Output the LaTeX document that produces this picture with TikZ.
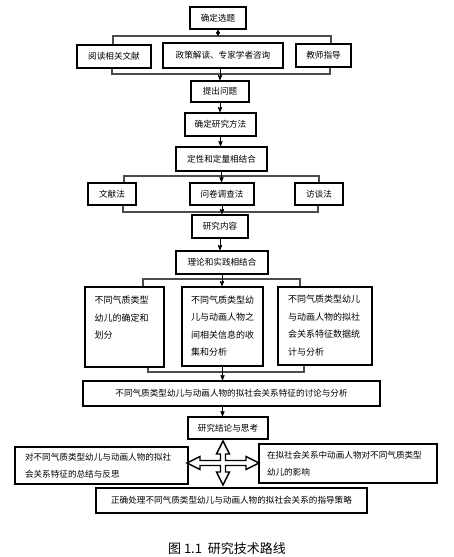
\documentclass[tikz,border=0pt]{standalone}
\usepackage{fontspec}
\setmainfont{Noto Sans CJK SC}
\usetikzlibrary{arrows, calc, positioning}

\tikzset{
  box/.style={draw, line width=1.1pt, inner sep=0pt, align=center,
    font=\fontsize{8.6}{17}\selectfont},
  tallbox/.style={box, font=\fontsize{9}{17.5}\selectfont},
  bar/.style={-, draw=black!70, line width=1.8pt},
}

\begin{document}
\begin{tikzpicture}[x=1pt, y=-1pt, ->, >=stealth', shorten >=0.5pt, line width=0.8pt]
  \useasboundingbox (0,0) rectangle (453,557);

  % topic and its sources
  \node[box, minimum width=56, minimum height=22]  (select)   at (218,18)    {确定选题};
  \node[box, minimum width=74, minimum height=23]  (read)     at (114,56.5)  {阅读相关文献};
  \node[box, minimum width=120, minimum height=25] (policy)   at (223,55.5)  {政策解读、专家学者咨询};
  \node[box, minimum width=55, minimum height=23]  (teach)    at (323.5,55.5) {教师指导};
  \node[box, minimum width=58, minimum height=21]  (question) at (220,91.5)  {提出问题};
  \node[box, minimum width=71, minimum height=23]  (method)   at (220.5,124.5) {确定研究方法};
  \node[box, minimum width=91, minimum height=24]  (mix)      at (221.5,159) {定性和定量相结合};

  % methods
  \node[box, minimum width=48, minimum height=22]  (lit)       at (112,194) {文献法};
  \node[box, minimum width=64, minimum height=22]  (survey)    at (222,194) {问卷调查法};
  \node[box, minimum width=48, minimum height=22]  (interview) at (319,194) {访谈法};
  \node[box, minimum width=56, minimum height=23]  (content)   at (220,226.5) {研究内容};
  \node[box, minimum width=92, minimum height=23]  (theory)    at (222,262.5) {理论和实践相结合};

  % contents
  \node[tallbox, minimum width=79, minimum height=80] (typeA) at (124.5,327)
    {\parbox[c][62pt][t]{60pt}{不同气质类型\\幼儿的确定和\\划分}};
  \node[tallbox, minimum width=81, minimum height=79] (typeB) at (222.5,326.5)
    {\parbox[c][62pt][t]{63pt}{不同气质类型幼\\儿与动画人物之\\间相关信息的收\\集和分析}};
  \node[tallbox, minimum width=94, minimum height=78] (typeC) at (325,326)
    {\parbox[c][62pt][t]{74pt}{不同气质类型幼儿\\与动画人物的拟社\\会关系特征数据统\\计与分析}};

  % results
  \node[box, minimum width=297, minimum height=25] (discuss)  at (231.5,393.5)
    {不同气质类型幼儿与动画人物的拟社会关系特征的讨论与分析};
  \node[box, minimum width=80, minimum height=22]  (conclude) at (228,428) {研究结论与思考};
  \node[box, minimum width=173, minimum height=37, text width=153, align=left] (summary) at (101.5,465.5)
    {对不同气质类型幼儿与动画人物的拟社\\会关系特征的总结与反思};
  \node[box, minimum width=178, minimum height=39, text width=162, align=left] (effect) at (348,463.5)
    {在拟社会关系中动画人物对不同气质类型\\幼儿的影响};
  \node[box, minimum width=271, minimum height=25] (strategy) at (231.5,500.5)
    {正确处理不同气质类型幼儿与动画人物的拟社会关系的指导策略};

  \node[font=\fontsize{13}{15}\selectfont] (caption) at (227,549) {图 1.1\ \ 研究技术路线};

  % brackets
  \coordinate (tbarL) at (113,36);  \coordinate (tbarR) at (331,36);
  \coordinate (bbarL) at (112,74);  \coordinate (bbarR) at (330,74);
  \coordinate (mbarL) at (124,176); \coordinate (mbarR) at (319,176);
  \coordinate (nbarL) at (123,212); \coordinate (nbarR) at (318,212);
  \coordinate (cbarL) at (143,279); \coordinate (cbarR) at (300,279);
  \coordinate (dbarL) at (148,372); \coordinate (dbarR) at (304,372);
  \draw[bar] (tbarL |- read.north) -- (tbarL) -- (tbarR) -- (tbarR |- teach.north);
  \draw[bar] (bbarL |- read.south) -- (bbarL) -- (bbarR) -- (bbarR |- teach.south);
  \draw[bar] (mbarL |- lit.north) -- (mbarL) -- (mbarR) -- (mbarR |- interview.north);
  \draw[bar] (nbarL |- lit.south) -- (nbarL) -- (nbarR) -- (nbarR |- interview.south);
  \draw[bar] (cbarL |- typeA.north) -- (cbarL) -- (cbarR) -- (cbarR |- typeC.north);
  \draw[bar] (dbarL |- typeA.south) -- (dbarL) -- (dbarR) -- (dbarR |- typeC.south);

  % main line
  \draw[<->, line width=0.6pt, shorten <=0pt, shorten >=0pt] (select.south) -- (select.south |- tbarL);
  \draw (question.north |- policy.south) -- (question.north);
  \draw (question.south) -- (question.south |- method.north);
  \draw (method.south) -- (method.south |- mix.north);
  \draw (mix.south) -- (mix.south |- survey.north);
  \draw (survey.south) -- (survey.south |- content.north);
  \draw (content.south) -- (content.south |- theory.north);
  \draw (theory.south) -- (theory.south |- typeB.north);
  \draw (typeB.south) -- (typeB.south |- discuss.north);
  \draw (typeB.south |- discuss.south) -- (typeB.south |- conclude.north);

  % cross arrow
  \coordinate (cross) at (223,463);
  \draw[-, line width=1.4pt, fill=white, line join=miter, shift={(cross)}]
    (36,0) -- (23,-6.5) -- (23,-2.5) -- (2.5,-2.5) -- (2.5,-9) -- (6.5,-9) -- (0,-22)
    -- (-6.5,-9) -- (-2.5,-9) -- (-2.5,-2.5) -- (-23,-2.5) -- (-23,-6.5) -- (-36,0)
    -- (-23,6.5) -- (-23,2.5) -- (-2.5,2.5) -- (-2.5,9) -- (-6.5,9) -- (0,22)
    -- (6.5,9) -- (2.5,9) -- (2.5,2.5) -- (23,2.5) -- (23,6.5) -- cycle;
\end{tikzpicture}
\end{document}
